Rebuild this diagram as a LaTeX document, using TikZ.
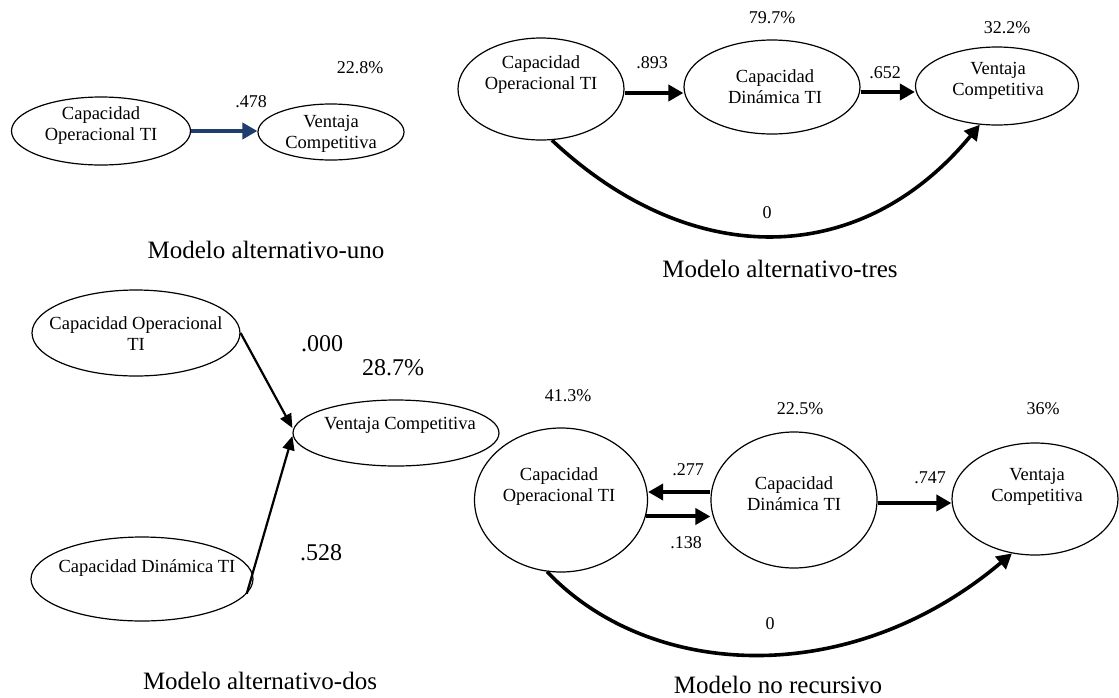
\documentclass[tikz,border=0pt]{standalone}
\usepackage{fontspec}
\setmainfont{Liberation Serif}
\usetikzlibrary{shapes.geometric,arrows.meta}
\definecolor{pathblue}{RGB}{31,62,110}
\begin{document}
\begin{tikzpicture}[x=1pt,y=-1pt,
  lv/.style={draw,ellipse,line width=1.2pt,inner sep=0pt},
  lvtext/.style={inner sep=0pt,align=center,font=\fontsize{18.5}{21}\selectfont},
  lbl/.style={inner sep=0pt,font=\fontsize{18}{20}\selectfont},
  biglbl/.style={inner sep=0pt,font=\fontsize{24}{26}\selectfont},
  modeltitle/.style={inner sep=0pt,anchor=base,font=\fontsize{25}{28}\selectfont},
  fat/.style={line width=4pt,-{Triangle[length=15pt,width=16pt]}},
  slim/.style={line width=2.2pt,-{Triangle[length=14pt,width=12pt]}},
  curved/.style={line width=3.6pt,-{Triangle[length=15pt,width=16pt]}}
]
\useasboundingbox (0,0) rectangle (1119,697);

% ---- Modelo alternativo-uno ----
\node[lv,minimum width=179pt,minimum height=68pt] (tlco) at (101,131) {};
\node[lvtext] (tlcot) at (101,126) {Capacidad\\Operacional TI};
\node[lv,minimum width=146pt,minimum height=56pt] (tlvc) at (331,132) {};
\node[lvtext] (tlvct) at (331,134) {Ventaja\\Competitiva};
\draw[fat,draw=pathblue,fill=pathblue] (tlco.east) -- (tlco.east -| tlvc.west);
\node[lbl] (tlb1) at (251,102) {.478};
\node[lbl] (tlr2) at (360,68) {22.8\%};
\node[modeltitle] (tlcap) at (266,258) {Modelo alternativo-uno};

% ---- Modelo alternativo-tres ----
\node[lv,minimum width=166pt,minimum height=102pt] (trco) at (541,89) {};
\node[lvtext] (trcot) at (541,75) {Capacidad\\Operacional TI};
\node[lv,minimum width=176pt,minimum height=94pt] (trcd) at (772,87) {};
\node[lvtext] (trcdt) at (775,87) {Capacidad\\Din\'amica TI};
\node[lv,minimum width=163pt,minimum height=78pt] (trvc) at (997,86) {};
\node[lvtext] (trvct) at (998,81) {Ventaja\\Competitiva};
\draw[fat] ([yshift=-4pt]trco.east) -- ([yshift=-4pt]trco.east -| trcd.west);
\draw[fat] ([yshift=-5pt]trcd.east) -- ([yshift=-5pt]trcd.east -| trvc.west);
\draw[curved] (trco.282) .. controls (690,270) and (860,270) .. (trvc.246);
\node[lbl] (trb1) at (652,63) {.893};
\node[lbl] (trb2) at (885,73) {.652};
\node[lbl] (trr2) at (772,18) {79.7\%};
\node[lbl] (trr3) at (1007,28) {32.2\%};
\node[lbl] (trb3) at (767,213) {0};
\node[modeltitle] (trcap) at (780,277) {Modelo alternativo-tres};

% ---- Modelo alternativo-dos ----
\node[lv,minimum width=208pt,minimum height=86pt] (blco) at (136,333) {};
\node[lvtext] (blcot) at (136,334) {Capacidad Operacional\\TI};
\node[lv,minimum width=206pt,minimum height=66pt] (blvc) at (396,433) {};
\node[lvtext] (blvct) at (400,425) {Ventaja Competitiva};
\node[lv,minimum width=222pt,minimum height=84pt] (blcd) at (142,579) {};
\node[lvtext] (blcdt) at (147,568) {Capacidad Din\'amica TI};
\draw[slim] (blco.east) -- ([yshift=5pt]blvc.west);
\draw[slim] (blcd.-8) -- ([yshift=-3pt]blvc.west);
\node[biglbl] (blb1) at (322,344) {.000};
\node[biglbl] (blr2) at (393,368) {28.7\%};
\node[biglbl] (blb2) at (321,553) {.528};
\node[modeltitle] (blcap) at (260,689) {Modelo alternativo-dos};

% ---- Modelo no recursivo ----
\node[lv,minimum width=173pt,minimum height=144pt] (brco) at (561,500) {};
\node[lvtext] (brcot) at (559,487) {Capacidad\\Operacional TI};
\node[lv,minimum width=166pt,minimum height=136pt] (brcd) at (794,500) {};
\node[lvtext] (brcdt) at (794,494) {Capacidad\\Din\'amica TI};
\node[lv,minimum width=166pt,minimum height=112pt] (brvc) at (1035,499) {};
\node[lvtext] (brvct) at (1037,487) {Ventaja\\Competitiva};
\draw[fat] ([yshift=8pt]brcd.west) -- ([yshift=8pt]brcd.west -| brco.east);
\draw[fat] (brco.-11.4) -- (brco.-11.4 -| brcd.west);
\draw[fat] ([yshift=-3pt]brcd.east) -- ([yshift=-3pt]brcd.east -| brvc.west);
\draw[curved] (brco.259) .. controls (650,680) and (850,690) .. (brvc.247);
\node[lbl] (brr1) at (568,396) {41.3\%};
\node[lbl] (brr2) at (800,409) {22.5\%};
\node[lbl] (brr3) at (1043,409) {36\%};
\node[lbl] (brb1) at (688,470) {.277};
\node[lbl] (brb2) at (686,543) {.138};
\node[lbl] (brb3) at (930,478) {.747};
\node[lbl] (brb4) at (770,624) {0};
\node[modeltitle] (brcap) at (778,693) {Modelo no recursivo};
\end{tikzpicture}
\end{document}
